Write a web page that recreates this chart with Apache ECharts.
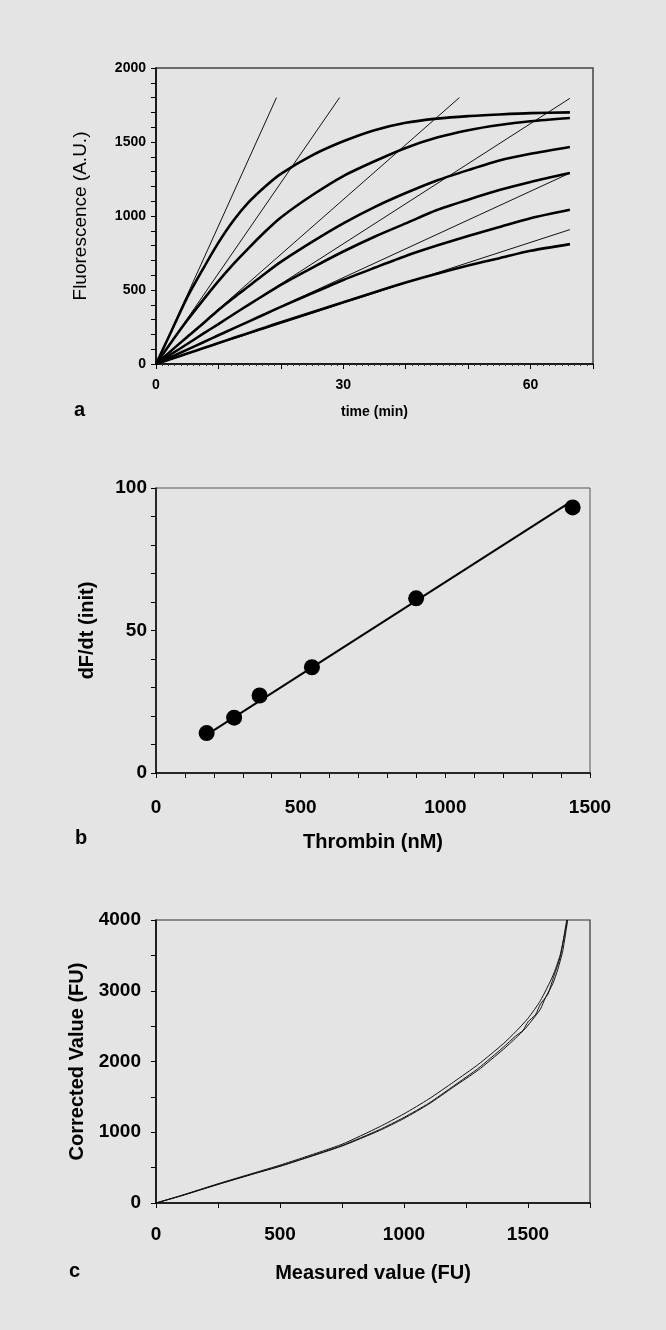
<!DOCTYPE html>
<html>
<head>
<meta charset="utf-8">
<script src="https://cdn.jsdelivr.net/npm/echarts@6/dist/echarts.min.js"></script>
<style>
html,body{margin:0;padding:0;background:#e4e4e4;}
#c{width:666px;height:1330px;}
</style>
</head>
<body>
<div id="c"></div>
<script>
// ---------- Panel a: fluorescence vs time ----------
const timeMin = [0, 2.5, 5, 7.5, 10, 12.5, 15, 17.5, 20, 25, 30, 35, 40, 45, 50, 55, 60, 66.3];
const curve1 = [0, 225, 450, 640, 820, 975, 1100, 1200, 1285, 1410, 1505, 1580, 1630, 1658, 1675, 1686, 1695, 1700];
const curve2 = [0, 150, 295, 430, 560, 680, 790, 895, 990, 1140, 1270, 1370, 1460, 1530, 1580, 1615, 1640, 1662];
const curve3 = [0, 92, 183, 272, 365, 450, 530, 612, 690, 825, 950, 1060, 1155, 1240, 1310, 1375, 1420, 1466];
const curve4 = [0, 68, 135, 203, 270, 338, 405, 470, 535, 650, 760, 860, 950, 1040, 1110, 1175, 1230, 1290];
const curve5 = [0, 48, 97, 145, 194, 242, 290, 338, 386, 478, 568, 650, 730, 800, 865, 925, 985, 1042];
const curve6 = [0, 35, 71, 106, 142, 177, 212, 247, 282, 350, 418, 485, 550, 610, 665, 715, 765, 810];
const curvesA = [curve1, curve2, curve3, curve4, curve5, curve6];
// initial-slope lines (start point, end point)
const tangent1 = [[0, 0], [19.3, 1800]];
const tangent2 = [[0, 0], [29.4, 1800]];
const tangent3 = [[0, 0], [48.6, 1800]];
const tangent4 = [[0, 0], [66.3, 1795]];
const tangent5 = [[0, 0], [66.3, 1290]];
const tangent6 = [[0, 0], [66.3, 908]];
const tangentsA = [tangent1, tangent2, tangent3, tangent4, tangent5, tangent6];
const timeTickLabels = [0, 30, 60];

// ---------- Panel b: initial rate vs thrombin ----------
const thrombinNM = [175, 270, 358, 539, 899, 1440];
const dFdtInit = [14.0, 19.4, 27.2, 37.1, 61.3, 93.2];
const fitLineB = [[175, 13.4], [1425, 94.6]];

// ---------- Panel c: corrected vs measured ----------
const measuredA = [0, 100, 250, 400, 500, 600, 750, 900, 1000, 1100, 1200, 1300, 1400, 1450, 1500, 1550, 1600, 1630, 1659];
const correctedA = [0, 105, 272, 430, 535, 650, 830, 1075, 1260, 1470, 1710, 1960, 2250, 2420, 2610, 2860, 3210, 3510, 4000];
const measuredB = [0, 100, 250, 400, 500, 600, 750, 900, 1000, 1100, 1200, 1300, 1400, 1450, 1480, 1500, 1530, 1550, 1580, 1600, 1630, 1656];
const correctedB = [0, 100, 265, 420, 522, 635, 812, 1035, 1210, 1410, 1655, 1905, 2200, 2360, 2440, 2560, 2660, 2810, 2950, 3160, 3480, 4000];
const measuredC = [0, 100, 250, 400, 500, 600, 750, 900, 1000, 1100, 1200, 1300, 1400, 1450, 1490, 1520, 1550, 1570, 1600, 1620, 1640, 1660];
const correctedC = [0, 100, 262, 418, 518, 630, 805, 1022, 1195, 1398, 1640, 1880, 2170, 2330, 2470, 2600, 2740, 2900, 3100, 3300, 3560, 4000];

const FONT = '"Liberation Sans", Arial, Helvetica, sans-serif';
const pairs = (xs, ys) => xs.map((x, i) => [x, ys[i]]);
const plain = v => String(v);

const chart = echarts.init(document.getElementById('c'), null, {renderer: 'canvas', width: 666, height: 1330});

function baseAxis(extra) {
  return Object.assign({
    type: 'value',
    splitLine: {show: false},
    axisLine: {show: true, onZero: false, lineStyle: {color: '#000', width: 1.5}},
    axisTick: {show: true, inside: false, length: 5, lineStyle: {color: '#000', width: 1}},
    nameLocation: 'middle'
  }, extra);
}
function lbl(size, margin, formatter) {
  return {color: '#000', fontFamily: FONT, fontWeight: 'bold', fontSize: size, margin: margin, formatter: formatter || plain};
}
function nm(size, weight) {
  return {color: '#000', fontFamily: FONT, fontWeight: weight || 'bold', fontSize: size};
}

const series = [];
tangentsA.forEach(t => series.push({
  type: 'line', xAxisIndex: 0, yAxisIndex: 0, data: t, showSymbol: false, silent: true,
  lineStyle: {color: '#111', width: 1}
}));
curvesA.forEach(c => series.push({
  type: 'line', xAxisIndex: 0, yAxisIndex: 0, data: pairs(timeMin, c), showSymbol: false, silent: true,
  smooth: 0.25, lineStyle: {color: '#000', width: 2.6}
}));
series.push({
  type: 'line', xAxisIndex: 1, yAxisIndex: 1, data: fitLineB, showSymbol: false, silent: true,
  lineStyle: {color: '#000', width: 2}
});
series.push({
  type: 'scatter', xAxisIndex: 1, yAxisIndex: 1, data: pairs(thrombinNM, dFdtInit),
  symbol: 'circle', symbolSize: 16, itemStyle: {color: '#000', opacity: 1}
});
[[measuredA, correctedA], [measuredB, correctedB], [measuredC, correctedC]].forEach(([xs, ys]) => series.push({
  type: 'line', xAxisIndex: 2, yAxisIndex: 2, data: pairs(xs, ys), showSymbol: false, silent: true,
  smooth: 0.2, lineStyle: {color: '#111', width: 1}
}));

const option = {
  backgroundColor: '#e4e4e4',
  animation: false,
  grid: [
    {left: 156, top: 68, width: 437, height: 296, show: true, borderColor: '#444', borderWidth: 1.5, backgroundColor: 'transparent'},
    {left: 156, top: 488, width: 434, height: 285, show: true, borderColor: '#555', borderWidth: 1, backgroundColor: 'transparent'},
    {left: 156, top: 920, width: 434, height: 283, show: true, borderColor: '#333', borderWidth: 1.2, backgroundColor: 'transparent'}
  ],
  xAxis: [
    baseAxis({
      gridIndex: 0, min: 0, max: 70, interval: 10,
      minorTick: {show: true, splitNumber: 10, length: 2, lineStyle: {color: '#333'}},
      axisLabel: lbl(14, 14, v => timeTickLabels.includes(v) ? String(v) : ''),
      name: 'time (min)', nameGap: 41, nameTextStyle: nm(14)
    }),
    baseAxis({
      gridIndex: 1, min: 0, max: 1500, interval: 500,
      minorTick: {show: true, splitNumber: 5, length: 5, lineStyle: {color: '#000'}},
      axisLabel: lbl(19, 25),
      name: 'Thrombin (nM)', nameGap: 59, nameTextStyle: nm(20)
    }),
    baseAxis({
      gridIndex: 2, min: 0, max: 1750, interval: 500,
      minorTick: {show: true, splitNumber: 2, length: 5, lineStyle: {color: '#000'}},
      axisLabel: lbl(19, 22, v => (v % 500 === 0 ? String(v) : '')),
      name: 'Measured value (FU)', nameGap: 60, nameTextStyle: nm(20)
    })
  ],
  yAxis: [
    baseAxis({
      gridIndex: 0, min: 0, max: 2000, interval: 500,
      minorTick: {show: true, splitNumber: 5, length: 5, lineStyle: {color: '#000'}},
      axisLabel: lbl(14, 10),
      name: 'Fluorescence (A.U.)', nameGap: 66, nameTextStyle: nm(19, 'normal')
    }),
    baseAxis({
      gridIndex: 1, min: 0, max: 100, interval: 50,
      minorTick: {show: true, splitNumber: 5, length: 5, lineStyle: {color: '#000'}},
      axisLabel: lbl(19, 9),
      name: 'dF/dt (init)', nameGap: 59, nameTextStyle: nm(20)
    }),
    baseAxis({
      gridIndex: 2, min: 0, max: 4000, interval: 1000,
      minorTick: {show: true, splitNumber: 2, length: 5, lineStyle: {color: '#000'}},
      axisLabel: lbl(19, 15),
      name: 'Corrected Value (FU)', nameGap: 68, nameTextStyle: nm(20)
    })
  ],
  graphic: [
    {type: 'text', left: 74, top: 400, style: {text: 'a', fontFamily: FONT, fontWeight: 'bold', fontSize: 20, fill: '#000'}},
    {type: 'text', left: 75, top: 828, style: {text: 'b', fontFamily: FONT, fontWeight: 'bold', fontSize: 20, fill: '#000'}},
    {type: 'text', left: 69, top: 1261, style: {text: 'c', fontFamily: FONT, fontWeight: 'bold', fontSize: 20, fill: '#000'}}
  ],
  series: series
};
chart.setOption(option);
</script>
</body>
</html>
